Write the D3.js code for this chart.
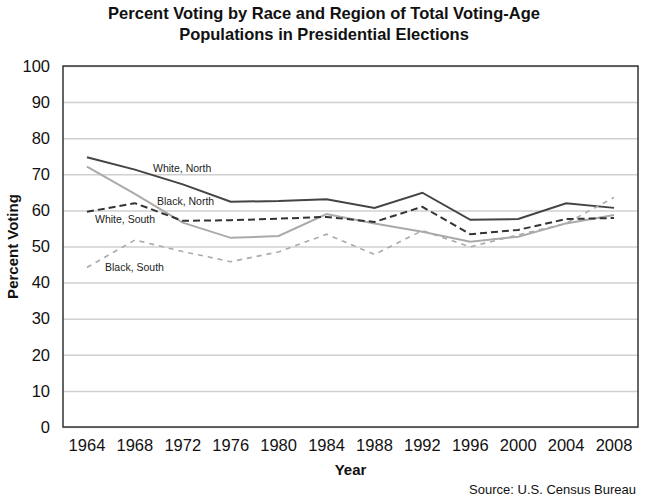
<!DOCTYPE html>
<html>
<head>
<meta charset="utf-8">
<script src="https://cdn.jsdelivr.net/npm/d3@7"></script>
<style>
  body { margin: 0; background: #fff; }
  svg { font-family: "Liberation Sans", Arial, sans-serif; }
</style>
</head>
<body>
<div id="chart"></div>
<script>
const years = [1964, 1968, 1972, 1976, 1980, 1984, 1988, 1992, 1996, 2000, 2004, 2008];
const whiteNorth = [74.7, 71.3, 67.2, 62.4, 62.6, 63.1, 60.7, 64.9, 57.4, 57.6, 62.0, 60.7];
const blackNorth = [72.1, 64.6, 56.6, 52.4, 52.9, 59.0, 56.4, 54.1, 51.3, 52.7, 56.4, 58.7];
const whiteSouth = [59.6, 62.0, 57.1, 57.3, 57.7, 58.2, 56.8, 61.0, 53.4, 54.6, 57.6, 57.9];
const blackSouth = [44.2, 51.8, 48.6, 45.8, 48.5, 53.4, 47.8, 54.4, 49.9, 53.2, 56.4, 63.6];
const yTicks = [0, 10, 20, 30, 40, 50, 60, 70, 80, 90, 100];

const series = [
  { name: 'White, North', values: whiteNorth, color: '#444', width: 2, dash: null, label: [153, 172] },
  { name: 'Black, North', values: blackNorth, color: '#aaa', width: 2, dash: null, label: [157, 205] },
  { name: 'White, South', values: whiteSouth, color: '#333', width: 2, dash: '7,4', label: [95, 223] },
  { name: 'Black, South', values: blackSouth, color: '#aaa', width: 1.6, dash: '5,5', label: [105, 271] },
];

const width = 646;
const height = 500;
const margin = { top: 66, right: 8, bottom: 73, left: 63 };
const fontFamily = '"Liberation Sans", Arial, sans-serif';

const svg = d3.select('#chart')
  .append('svg')
  .attr('width', width)
  .attr('height', height);

const x = d3.scaleBand()
  .domain(years)
  .range([margin.left, width - margin.right]);

const y = d3.scaleLinear()
  .domain([0, 100])
  .range([height - margin.bottom, margin.top]);

// gridlines
svg.append('g')
  .attr('transform', `translate(${margin.left},0)`)
  .call(d3.axisLeft(y).tickValues(yTicks).tickFormat('').tickSize(-(width - margin.left - margin.right)))
  .call((g) => g.select('.domain').remove())
  .call((g) => g.selectAll('line').attr('stroke', '#d0d0d0').attr('stroke-width', 1.5));

// y axis labels
svg.append('g')
  .attr('transform', `translate(${margin.left},0)`)
  .call(d3.axisLeft(y).tickValues(yTicks).tickSize(0).tickPadding(13))
  .call((g) => g.select('.domain').remove())
  .call((g) => g.selectAll('text').attr('font-size', 16.5).attr('fill', '#111').style('font-family', fontFamily));

// x axis labels
svg.append('g')
  .attr('transform', `translate(0,${height - margin.bottom})`)
  .call(d3.axisBottom(x).tickSize(0).tickPadding(12))
  .call((g) => g.select('.domain').remove())
  .call((g) => g.selectAll('text').attr('font-size', 16.5).attr('fill', '#111').style('font-family', fontFamily));

// lines
const line = d3.line()
  .x((d, i) => x(years[i]) + x.bandwidth() / 2)
  .y((d) => y(d));

series.forEach((s) => {
  svg.append('path')
    .datum(s.values)
    .attr('fill', 'none')
    .attr('stroke', s.color)
    .attr('stroke-width', s.width)
    .attr('stroke-dasharray', s.dash)
    .attr('d', line);

  svg.append('text')
    .attr('x', s.label[0])
    .attr('y', s.label[1])
    .attr('font-size', 10.5)
    .attr('fill', '#222')
    .text(s.name);
});

// plot frame
svg.append('rect')
  .attr('x', margin.left)
  .attr('y', margin.top)
  .attr('width', width - margin.left - margin.right)
  .attr('height', height - margin.top - margin.bottom)
  .attr('fill', 'none')
  .attr('stroke', '#333')
  .attr('stroke-width', 1.5);

// title
const title = svg.append('text')
  .attr('text-anchor', 'middle')
  .attr('font-size', 16.5)
  .attr('font-weight', 'bold')
  .attr('fill', '#111');
title.append('tspan').attr('x', 324).attr('y', 19).text('Percent Voting by Race and Region of Total Voting-Age');
title.append('tspan').attr('x', 324).attr('y', 40).text('Populations in Presidential Elections');

// axis titles
svg.append('text')
  .attr('x', (margin.left + width - margin.right) / 2)
  .attr('y', 475)
  .attr('text-anchor', 'middle')
  .attr('font-size', 15)
  .attr('font-weight', 'bold')
  .attr('fill', '#111')
  .text('Year');

svg.append('text')
  .attr('transform', `translate(18,${(margin.top + height - margin.bottom) / 2}) rotate(-90)`)
  .attr('text-anchor', 'middle')
  .attr('font-size', 15)
  .attr('font-weight', 'bold')
  .attr('fill', '#111')
  .text('Percent Voting');

svg.append('text')
  .attr('x', 636)
  .attr('y', 494)
  .attr('text-anchor', 'end')
  .attr('font-size', 13)
  .attr('fill', '#111')
  .text('Source: U.S. Census Bureau');
</script>
</body>
</html>
